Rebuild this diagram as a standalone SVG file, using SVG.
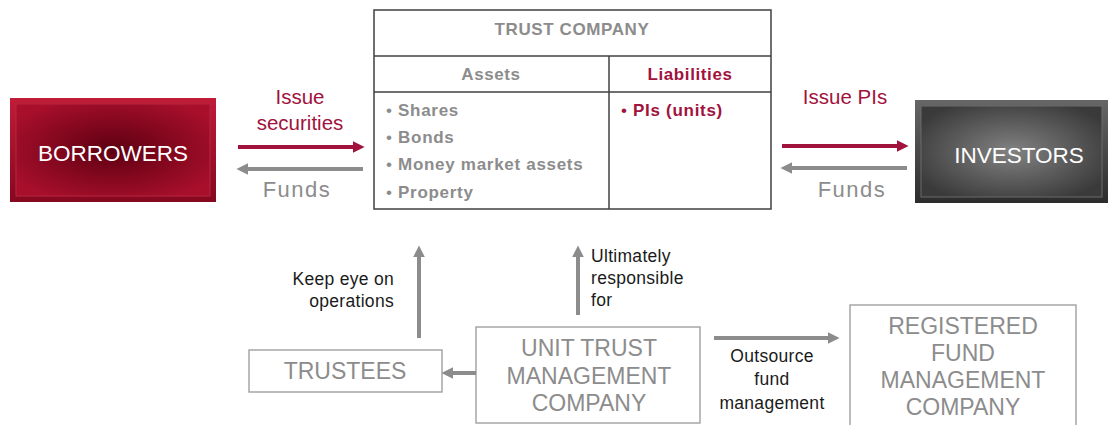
<svg xmlns="http://www.w3.org/2000/svg" width="1110" height="425" viewBox="0 0 1110 425">
<style>
text{font-family:"Liberation Sans",Arial,sans-serif}
.tbl{fill:none;stroke:#404040;stroke-width:1.5}
.th{font-size:17px;font-weight:bold;fill:#8c8c8c;letter-spacing:0.6px}
.item{font-size:17px;font-weight:bold;fill:#8c8c8c;letter-spacing:0.7px}
.red{fill:#a1123d}
.lbl{font-size:20.5px}
.fnd{font-size:22px;letter-spacing:1.5px}
.gray{fill:#8c8c8c}
.blk{font-size:17.5px;fill:#1a1a1a;letter-spacing:0.3px}
.box{fill:#fff;stroke:#a6a6a6;stroke-width:1.5}
.boxt{font-size:23px;fill:#8c8c8c;text-anchor:middle}
.ar{stroke:#a1123d;stroke-width:4;fill:none}
.ag{stroke:#8c8c8c;stroke-width:4;fill:none}
</style>
<defs>
<marker id="mr" viewBox="0 0 10 10" refX="2" refY="5" markerWidth="3" markerHeight="3" orient="auto"><path d="M0,0 L10,5 L0,10 z" fill="#a1123d"/></marker>
<marker id="mg" viewBox="0 0 10 10" refX="2" refY="5" markerWidth="3" markerHeight="3" orient="auto"><path d="M0,0 L10,5 L0,10 z" fill="#8c8c8c"/></marker>
<radialGradient id="gb" cx="0.5" cy="0.5" r="0.6">
<stop offset="0" stop-color="#5e0012"/><stop offset="1" stop-color="#a80f2b"/></radialGradient>
<radialGradient id="gi" cx="0.5" cy="0.5" r="0.6">
<stop offset="0" stop-color="#828282"/><stop offset="1" stop-color="#3a3a3a"/></radialGradient>
<linearGradient id="bbv" x1="0" y1="0" x2="0" y2="1"><stop offset="0" stop-color="#c01c38"/><stop offset="1" stop-color="#85081f"/></linearGradient>
<linearGradient id="ibv" x1="0" y1="0" x2="0" y2="1"><stop offset="0" stop-color="#666"/><stop offset="1" stop-color="#2c2c2c"/></linearGradient>
</defs>

<g id="borrowers">
<rect x="10" y="98" width="206" height="104" fill="url(#bbv)"/>
<rect x="16" y="104" width="194" height="92" fill="url(#gb)" stroke="#b52640" stroke-width="1"/>
<text x="113" y="161" font-size="22.5" fill="#fff" text-anchor="middle">BORROWERS</text>
</g>

<g id="investors">
<rect x="915" y="100" width="193" height="103" fill="url(#ibv)"/>
<rect x="921" y="106" width="181" height="91" fill="url(#gi)" stroke="#6a6a6a" stroke-width="1"/>
<text x="1019" y="163" font-size="22.5" fill="#fff" text-anchor="middle">INVESTORS</text>
</g>

<g id="trust-company">
<rect class="tbl" x="374" y="10" width="397" height="199"/>
<line class="tbl" x1="374" y1="56" x2="771" y2="56"/>
<line class="tbl" x1="374" y1="92" x2="771" y2="92"/>
<line class="tbl" x1="609" y1="56" x2="609" y2="209"/>
<text class="th" x="572" y="35" text-anchor="middle">TRUST COMPANY</text>
<text class="th" x="491" y="80" text-anchor="middle">Assets</text>
<text class="th red" x="690" y="80" text-anchor="middle">Liabilities</text>
<text class="item" x="386" y="116"><tspan font-weight="normal">•</tspan> Shares</text>
<text class="item" x="386" y="143"><tspan font-weight="normal">•</tspan> Bonds</text>
<text class="item" x="386" y="170"><tspan font-weight="normal">•</tspan> Money market assets</text>
<text class="item" x="386" y="198"><tspan font-weight="normal">•</tspan> Property</text>
<text class="item red" x="621" y="116"><tspan font-weight="normal">•</tspan> PIs (units)</text>
</g>

<g id="trustees">
<rect class="box" x="249" y="350" width="193" height="42"/>
<text class="boxt" x="345" y="379">TRUSTEES</text>
</g>

<g id="utmc">
<rect class="box" x="476" y="327" width="224" height="96"/>
<text class="boxt" x="589" y="356">UNIT TRUST</text>
<text class="boxt" x="589" y="384">MANAGEMENT</text>
<text class="boxt" x="589" y="411">COMPANY</text>
</g>

<g id="rfmc">
<rect class="box" x="850" y="305" width="226" height="130"/>
<text class="boxt" x="963" y="334">REGISTERED</text>
<text class="boxt" x="963" y="361">FUND</text>
<text class="boxt" x="963" y="388">MANAGEMENT</text>
<text class="boxt" x="963" y="415">COMPANY</text>
</g>

<g id="connectors">
<line class="ar" x1="238" y1="147" x2="355" y2="147" marker-end="url(#mr)"/>
<line class="ag" x1="363" y1="169" x2="246" y2="169" marker-end="url(#mg)"/>
<line class="ar" x1="782" y1="146" x2="899" y2="146" marker-end="url(#mr)"/>
<line class="ag" x1="907" y1="168" x2="790" y2="168" marker-end="url(#mg)"/>
<line class="ag" x1="419" y1="338" x2="419" y2="255" marker-end="url(#mg)"/>
<line class="ag" x1="578" y1="315" x2="578" y2="255" marker-end="url(#mg)"/>
<line class="ag" x1="476" y1="373" x2="451" y2="373" marker-end="url(#mg)"/>
<line class="ag" x1="714" y1="338" x2="830" y2="338" marker-end="url(#mg)"/>
</g>

<g id="labels">
<text class="lbl red" x="300" y="104" text-anchor="middle">Issue</text>
<text class="lbl red" x="300" y="130" text-anchor="middle">securities</text>
<text class="fnd gray" x="297" y="197" text-anchor="middle">Funds</text>
<text class="lbl red" x="845" y="104" text-anchor="middle">Issue PIs</text>
<text class="fnd gray" x="852" y="197" text-anchor="middle">Funds</text>
<text class="blk" x="394" y="285" text-anchor="end">Keep eye on</text>
<text class="blk" x="394" y="307" text-anchor="end">operations</text>
<text class="blk" x="591" y="262">Ultimately</text>
<text class="blk" x="591" y="284">responsible</text>
<text class="blk" x="591" y="306">for</text>
<text class="blk" x="772" y="362" text-anchor="middle">Outsource</text>
<text class="blk" x="772" y="385" text-anchor="middle">fund</text>
<text class="blk" x="772" y="409" text-anchor="middle">management</text>
</g>
</svg>
